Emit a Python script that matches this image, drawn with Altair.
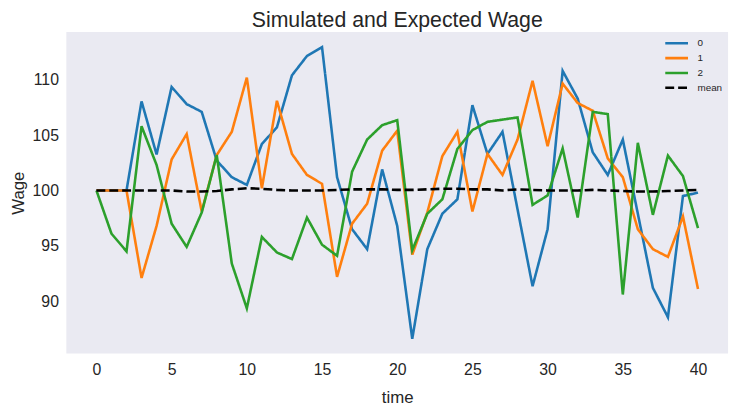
import altair as alt
import pandas as pd

time = list(range(41))
s0 = [100.0, 100.0, 100.0, 108.05, 103.25, 109.35, 107.8, 107.1, 102.7, 101.2,
      100.5, 104.2, 105.7, 110.4, 112.15, 112.95, 101.2, 96.5, 94.7, 101.9,
      96.8, 86.6, 94.7, 97.9, 99.2, 107.7, 103.3, 105.3, 98.3, 91.35,
      96.5, 110.8, 108.3, 103.45, 101.4, 104.6, 97.9, 91.2, 88.55, 99.5, 99.8]
s1 = [100.0, 100.0, 100.0, 92.1, 96.8, 102.8, 105.1, 98.1, 103.2, 105.3,
      110.2, 100.2, 108.1, 103.3, 101.4, 100.6, 92.2, 97.0, 98.8, 103.6,
      105.4, 94.2, 98.0, 103.1, 105.3, 98.1, 103.3, 101.4, 104.6, 109.9,
      104.0, 109.65, 107.9, 107.2, 102.9, 101.2, 96.5, 94.7, 94.0, 97.65, 91.1]
s2 = [100.0, 96.1, 94.5, 105.8, 102.3, 97.0, 94.9, 98.0, 103.2, 93.4,
      89.35, 95.8, 94.4, 93.8, 97.55, 95.1, 94.1, 101.7, 104.6, 105.9,
      106.35, 94.6, 97.9, 99.2, 103.75, 105.45, 106.2, 106.4, 106.6, 98.7,
      99.55, 103.8, 97.55, 107.1, 106.9, 90.6, 104.3, 97.8, 103.15, 101.3, 96.6]
mean = [100.0, 100.0, 100.0, 100.0, 100.0, 100.0, 99.9, 99.9, 99.95, 100.1,
        100.2, 100.15, 100.05, 100.0, 100.0, 100.0, 100.05, 100.1, 100.1, 100.1,
        100.05, 100.05, 100.1, 100.15, 100.15, 100.1, 100.1, 100.0, 100.1, 100.05,
        100.0, 100.0, 100.0, 100.05, 100.0, 99.95, 99.9, 99.9, 99.95, 100.0, 100.05]

series_names = ["0", "1", "2", "mean"]
series_values = [s0, s1, s2, mean]
colors = ["#1f77b4", "#ff7f0e", "#2ca02c", "#000000"]
dashes = [[1, 0], [1, 0], [1, 0], [9, 4]]
x_ticks = [0, 5, 10, 15, 20, 25, 30, 35, 40]
y_ticks = [90, 95, 100, 105, 110]

rows = []
for name, vals in zip(series_names, series_values):
    for t, v in zip(time, vals):
        rows.append({"time": t, "Wage": v, "series": name})
df = pd.DataFrame(rows)

FONT = "Liberation Sans"
TXT = "#262626"

chart = alt.Chart(df).mark_line(strokeWidth=2.6).encode(
    x=alt.X("time:Q", scale=alt.Scale(domain=[-2, 42], nice=False, zero=False),
            axis=alt.Axis(values=x_ticks, title="time", grid=False, domain=False,
                          ticks=False, labelPadding=8, titlePadding=13)),
    y=alt.Y("Wage:Q", scale=alt.Scale(domain=[85.28, 114.32], nice=False, zero=False),
            axis=alt.Axis(values=y_ticks, title="Wage", grid=False, domain=False,
                          ticks=False, labelPadding=8, titlePadding=5)),
    color=alt.Color("series:N", scale=alt.Scale(domain=series_names, range=colors),
                    legend=alt.Legend(title=None, orient="none", legendX=604, legendY=5,
                                      symbolType="stroke", symbolSize=529,
                                      symbolStrokeWidth=2.6, clipHeight=13,
                                      rowPadding=2, labelOffset=8, padding=0,
                                      labelFontSize=10, labelFont=FONT,
                                      labelColor=TXT)),
    strokeDash=alt.StrokeDash("series:N", scale=alt.Scale(domain=series_names, range=dashes),
                              legend=None),
    detail="series:N",
).properties(
    width=669,
    height=325,
    title=alt.TitleParams("Simulated and Expected Wage", fontSize=21.5, font=FONT,
                          color=TXT, fontWeight="normal", anchor="middle", offset=1),
    autosize=alt.AutoSizeParams(type="none"),
    padding={"left": 59, "top": 22, "right": 7, "bottom": 54},
).configure_view(
    fill="#EAEAF2", stroke=None
).configure_axis(
    labelFont=FONT, titleFont=FONT, labelFontSize=16, titleFontSize=17,
    labelColor=TXT, titleColor=TXT, titleFontWeight="normal"
)

chart.save("out.html", embed_options={"renderer": "svg", "actions": False})
